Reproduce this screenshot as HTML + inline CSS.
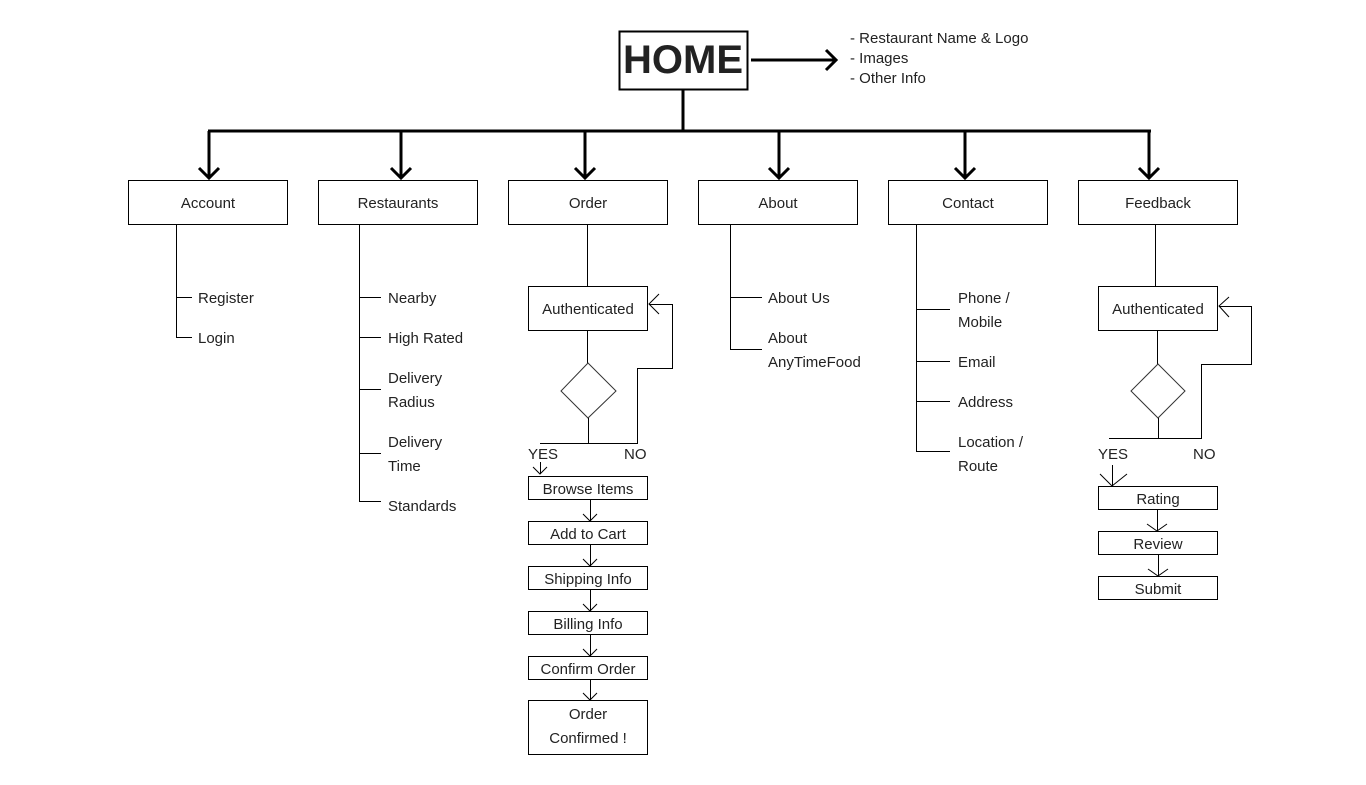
<!DOCTYPE html>
<html><head><meta charset="utf-8"><style>
html,body{margin:0;padding:0;background:#fff;}
svg{display:block;}
text{font-family:"Liberation Sans","DejaVu Sans",sans-serif;font-size:15px;fill:#222;}
.c{text-anchor:middle;}
</style></head><body>
<svg width="1366" height="785" viewBox="0 0 1366 785" xmlns="http://www.w3.org/2000/svg">
<g fill="none" stroke="#000">
<!-- HOME -->
<rect x="619.5" y="31.5" width="128" height="58" stroke-width="2"/>
<g stroke-width="3">
<line x1="683" y1="89" x2="683" y2="131"/>
<line x1="208" y1="131" x2="1151" y2="131"/>
<line x1="751" y1="60" x2="836" y2="60"/>
<polyline points="826,50 836,60 826,70"/>
<line x1="209" y1="131" x2="209" y2="178"/><polyline points="199,168 209,178 219,168"/>
<line x1="401" y1="131" x2="401" y2="178"/><polyline points="391,168 401,178 411,168"/>
<line x1="585" y1="131" x2="585" y2="178"/><polyline points="575,168 585,178 595,168"/>
<line x1="779" y1="131" x2="779" y2="178"/><polyline points="769,168 779,178 789,168"/>
<line x1="965" y1="131" x2="965" y2="178"/><polyline points="955,168 965,178 975,168"/>
<line x1="1149" y1="131" x2="1149" y2="178"/><polyline points="1139,168 1149,178 1159,168"/>
</g>
<g stroke-width="1">
<rect x="128.5" y="180.5" width="159" height="44"/>
<rect x="318.5" y="180.5" width="159" height="44"/>
<rect x="508.5" y="180.5" width="159" height="44"/>
<rect x="698.5" y="180.5" width="159" height="44"/>
<rect x="888.5" y="180.5" width="159" height="44"/>
<rect x="1078.5" y="180.5" width="159" height="44"/>
<!-- account -->
<path d="M176.5 224V337.5H192M176.5 297.5H192"/>
<!-- restaurants -->
<path d="M359.5 224V501.5H381M359.5 297.5H381M359.5 337.5H381M359.5 389.5H381M359.5 453.5H381"/>
<!-- about -->
<path d="M730.5 224V349.5H762M730.5 297.5H762"/>
<!-- contact -->
<path d="M916.5 224V451.5H950M916.5 309.5H950M916.5 361.5H950M916.5 401.5H950"/>
<!-- order -->
<path d="M587.5 224V286"/>
<rect x="528.5" y="286.5" width="119" height="44"/>
<path d="M587.5 330V363"/>
<polygon points="588,363 616,391 588,418 561,391" stroke="#333"/>
<path d="M588.5 418V443.5M540 443.5H637.5V368.5H672.5V304.5H649"/>
<polyline points="659,294 649,304 659,314"/>
<path d="M540.5 462V474"/><polyline points="533,467 540,474 547,467"/>
<rect x="528.5" y="476.5" width="119" height="23"/>
<rect x="528.5" y="521.5" width="119" height="23"/>
<rect x="528.5" y="566.5" width="119" height="23"/>
<rect x="528.5" y="611.5" width="119" height="23"/>
<rect x="528.5" y="656.5" width="119" height="23"/>
<rect x="528.5" y="700.5" width="119" height="54"/>
<path d="M590.5 500V521M590.5 545V566M590.5 590V611M590.5 635V656M590.5 680V700"/>
<polyline points="583,514 590,521 597,514"/>
<polyline points="583,559 590,566 597,559"/>
<polyline points="583,604 590,611 597,604"/>
<polyline points="583,649 590,656 597,649"/>
<polyline points="583,693 590,700 597,693"/>
<!-- feedback -->
<path d="M1155.5 224V286"/>
<rect x="1098.5" y="286.5" width="119" height="44"/>
<path d="M1157.5 330V364"/>
<polygon points="1158,364 1185,391 1158,418 1131,391" stroke="#333"/>
<path d="M1158.5 418V438.5M1109 438.5H1201.5V364.5H1251.5V306.5H1219"/>
<polyline points="1229,297 1219,306 1229,317"/>
<path d="M1112.5 465V486"/><polyline points="1100,474 1112,486 1127,474"/>
<rect x="1098.5" y="486.5" width="119" height="23"/>
<rect x="1098.5" y="531.5" width="119" height="23"/>
<rect x="1098.5" y="576.5" width="119" height="23"/>
<path d="M1157.5 510V531M1158.5 555V576"/>
<polyline points="1147,524 1157,531 1167,524"/>
<polyline points="1148,569 1158,576 1168,569"/>
</g>
</g>
<text x="683" y="73" class="c" style="font-size:40px;font-weight:bold;fill:#222;">HOME</text>
<text x="850" y="43">- Restaurant Name &amp; Logo</text>
<text x="850" y="63">- Images</text>
<text x="850" y="83">- Other Info</text>
<text x="208" y="208" class="c">Account</text>
<text x="398" y="208" class="c">Restaurants</text>
<text x="588" y="208" class="c">Order</text>
<text x="778" y="208" class="c">About</text>
<text x="968" y="208" class="c">Contact</text>
<text x="1158" y="208" class="c">Feedback</text>
<text x="198" y="303">Register</text>
<text x="198" y="343">Login</text>
<text x="388" y="303">Nearby</text>
<text x="388" y="343">High Rated</text>
<text x="388" y="383">Delivery</text>
<text x="388" y="407">Radius</text>
<text x="388" y="447">Delivery</text>
<text x="388" y="471">Time</text>
<text x="388" y="511">Standards</text>
<text x="768" y="303">About Us</text>
<text x="768" y="343">About</text>
<text x="768" y="367">AnyTimeFood</text>
<text x="958" y="303">Phone /</text>
<text x="958" y="327">Mobile</text>
<text x="958" y="367">Email</text>
<text x="958" y="407">Address</text>
<text x="958" y="447">Location /</text>
<text x="958" y="471">Route</text>
<text x="588" y="314" class="c">Authenticated</text>
<text x="528" y="459">YES</text>
<text x="624" y="459">NO</text>
<text x="588" y="494" class="c">Browse Items</text>
<text x="588" y="539" class="c">Add to Cart</text>
<text x="588" y="584" class="c">Shipping Info</text>
<text x="588" y="629" class="c">Billing Info</text>
<text x="588" y="674" class="c">Confirm Order</text>
<text x="588" y="719" class="c">Order</text>
<text x="588" y="743" class="c">Confirmed !</text>
<text x="1158" y="314" class="c">Authenticated</text>
<text x="1098" y="459">YES</text>
<text x="1193" y="459">NO</text>
<text x="1158" y="504" class="c">Rating</text>
<text x="1158" y="549" class="c">Review</text>
<text x="1158" y="594" class="c">Submit</text>
</svg>
</body></html>
